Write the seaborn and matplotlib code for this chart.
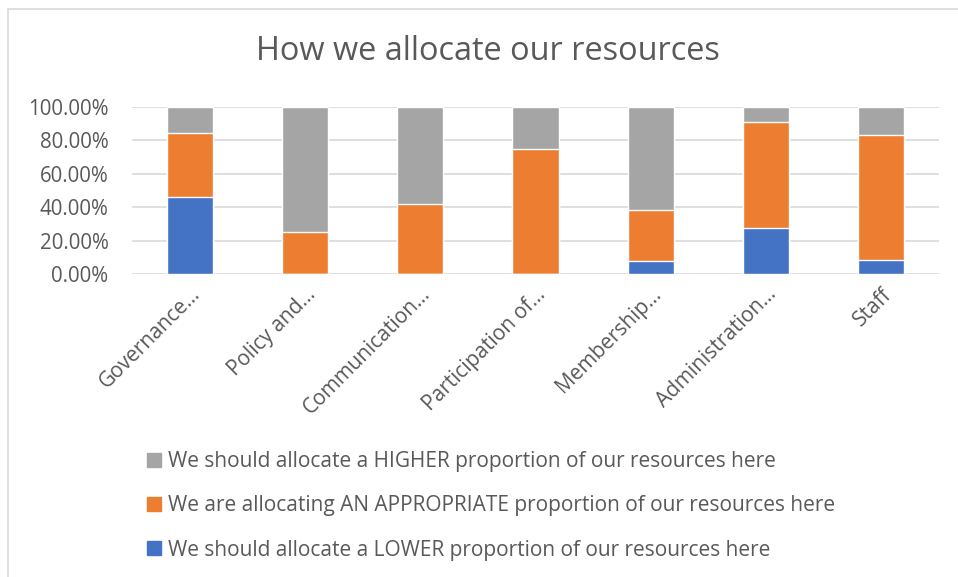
import matplotlib
matplotlib.use("Agg")
import matplotlib.pyplot as plt
import seaborn as sns
import pandas as pd
import numpy as np
from matplotlib.patches import Rectangle
from matplotlib.lines import Line2D

categories = ["Governance...", "Policy and...", "Communication...", "Participation of...",
              "Membership...", "Administration...", "Staff"]
lower = [46.15, 0.0, 0.0, 0.0, 7.69, 27.27, 8.33]
appropriate = [38.46, 25.0, 41.67, 75.0, 30.77, 63.64, 75.0]
higher = [15.38, 75.0, 58.33, 25.0, 61.54, 9.09, 16.67]
series_names = ["We should allocate a HIGHER proportion of our resources here",
                "We are allocating AN APPROPRIATE proportion of our resources here",
                "We should allocate a LOWER proportion of our resources here"]
yticks = [0, 20, 40, 60, 80, 100]

c_blue, c_orange, c_gray = "#4472C4", "#ED7D31", "#A5A5A5"
txt = "#595959"

sns.set_theme(style="white")
plt.rcParams['font.family'] = ['Open Sans', 'DejaVu Sans']

df = pd.DataFrame({"cat": categories, "lower": lower, "appr": appropriate, "high": higher})
df["top_appr"] = df["lower"] + df["appr"]
df["top_high"] = df["top_appr"] + df["high"]

fig = plt.figure(figsize=(9.58, 5.77), dpi=100)
W, H = 958, 577
ax = fig.add_axes([132 / W, 1 - 274 / H, (939 - 132) / W, (274 - 107) / H])

sns.barplot(data=df, x="cat", y="top_high", color=c_gray, width=0.4, ax=ax, saturation=1, zorder=3)
sns.barplot(data=df, x="cat", y="top_appr", color=c_orange, width=0.4, ax=ax, saturation=1, zorder=3)
sns.barplot(data=df, x="cat", y="lower", color=c_blue, width=0.4, ax=ax, saturation=1, zorder=3)

ax.set_ylim(0, 100)
ax.set_xlim(-0.5, len(categories) - 0.5)
ax.set_yticks(yticks)
ax.set_yticklabels([f"{v:.2f}%" for v in yticks], color=txt, fontsize=14.8)
ax.set_xticks(range(len(categories)))
ax.set_xticklabels(categories, rotation=45, ha="right", rotation_mode="anchor",
                   color=txt, fontsize=15)
ax.tick_params(axis="y", length=0, pad=17)
ax.tick_params(axis="x", length=0, pad=7)
ax.set_xlabel("")
ax.set_ylabel("")
for s in ax.spines.values():
    s.set_visible(False)
ax.yaxis.grid(True, color="#D9D9D9", linewidth=1.2, zorder=0)
ax.set_axisbelow(True)

fig.text(488 / W, 1 - 52 / H, "How we allocate our resources", ha="center", va="center",
         fontsize=23.4, color=txt)

handles = [Line2D([0], [0], marker="s", linestyle="none", markersize=10, markerfacecolor=c,
                  markeredgecolor=c) for c in (c_gray, c_orange, c_blue)]
leg = fig.legend(handles, series_names, loc="upper left", bbox_to_anchor=(144 / W, 1 - 451 / H),
                 frameon=False, fontsize=15, labelcolor=txt, handletextpad=0.15,
                 labelspacing=1.12, handlelength=1.0, borderaxespad=0, borderpad=0)

fig.patches.append(Rectangle((8 / W, -0.02), 1.05, 1 - 9 / H + 0.02, transform=fig.transFigure,
                             fill=False, edgecolor="#D9D9D9", linewidth=1.2))

fig.savefig("out.png", dpi=100)
